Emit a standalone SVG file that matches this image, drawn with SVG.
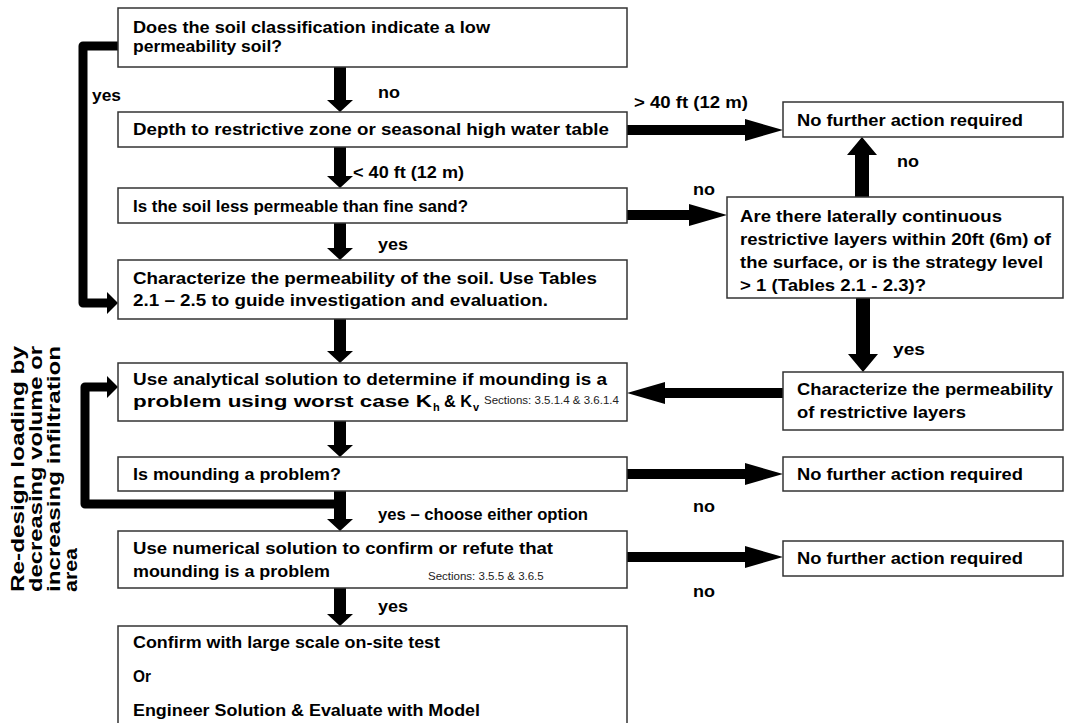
<svg xmlns="http://www.w3.org/2000/svg" width="1066" height="723" viewBox="0 0 1066 723">
<style>
.box{fill:#fff;stroke:#333;stroke-width:1.5}
.t{font-family:"Liberation Sans",Arial,sans-serif;font-weight:bold;font-size:17px;fill:#000}
.r{font-family:"Liberation Sans",Arial,sans-serif;font-weight:bold;font-size:17.5px;fill:#000}
.s{font-family:"Liberation Sans",Arial,sans-serif;font-size:11.5px;fill:#222}
.sub{font-family:"Liberation Sans",Arial,sans-serif;font-weight:bold;font-size:11px;fill:#000}
.ar{fill:#000}
.br{fill:none;stroke:#000;stroke-width:9;stroke-linejoin:round}
</style>
<rect width="1066" height="723" fill="#fff"/>

<g id="connectors">
  <path class="ar" d="M334,67 H346 V100 H353 L340,112 L327,100 H334 Z"/>
  <path class="ar" d="M334,147 H346 V176 H353 L340,188 L327,176 H334 Z"/>
  <path class="ar" d="M334,223 H346 V248 H353 L340,260 L327,248 H334 Z"/>
  <path class="ar" d="M334,319 H346 V351 H353 L340,363 L327,351 H334 Z"/>
  <path class="ar" d="M334,421 H346 V445 H353 L340,457 L327,445 H334 Z"/>
  <path class="ar" d="M334,491 H346 V519 H353 L340,531 L327,519 H334 Z"/>
  <path class="ar" d="M334,588 H346 V614 H353 L340,626 L327,614 H334 Z"/>
  <path class="ar" d="M627,125 H745 V119 L783,130 L745,141 V135 H627 Z"/>
  <path class="ar" d="M627,210 H689 V204 L727,215 L689,226 V220 H627 Z"/>
  <path class="ar" d="M627,469 H745 V463 L783,474 L745,485 V479 H627 Z"/>
  <path class="ar" d="M627,552 H745 V546 L783,557 L745,568 V562 H627 Z"/>
  <path class="ar" d="M783,388 H665 V382 L627,393 L665,404 V398 H783 Z"/>
  <path class="ar" d="M855,197 V155 H847 L862,137 L877,155 H869 V197 Z"/>
  <path class="ar" d="M856,298 V354 H848 L863,372 L878,354 H870 V298 Z"/>
  <path class="br" d="M118,46 H83 V303 H110"/>
  <path class="ar" d="M107,292 L118,303 L107,314 Z"/>
  <path class="br" d="M334,504 H85 V387 H110"/>
  <path class="ar" d="M107,376 L118,387 L107,398 Z"/>
</g>

<g id="n1">
  <rect class="box" x="118" y="8" width="509" height="59"/>
  <text class="t" x="133" y="33" textLength="357" lengthAdjust="spacingAndGlyphs">Does the soil classification indicate a low</text>
  <text class="t" x="133" y="52" textLength="149" lengthAdjust="spacingAndGlyphs">permeability soil?</text>
</g>
<g id="n2">
  <rect class="box" x="118" y="112" width="509" height="35"/>
  <text class="t" x="133" y="135" textLength="476" lengthAdjust="spacingAndGlyphs">Depth to restrictive zone or seasonal high water table</text>
</g>
<g id="n3">
  <rect class="box" x="118" y="188" width="509" height="35"/>
  <text class="t" x="133" y="212" textLength="335" lengthAdjust="spacingAndGlyphs">Is the soil less permeable than fine sand?</text>
</g>
<g id="n4">
  <rect class="box" x="118" y="260" width="509" height="59"/>
  <text class="t" x="133" y="284" textLength="464" lengthAdjust="spacingAndGlyphs">Characterize the permeability of the soil. Use Tables</text>
  <text class="t" x="133" y="306" textLength="415" lengthAdjust="spacingAndGlyphs">2.1 – 2.5 to guide investigation and evaluation.</text>
</g>
<g id="n5">
  <rect class="box" x="118" y="363" width="509" height="58"/>
  <text class="t" x="133" y="385" textLength="474" lengthAdjust="spacingAndGlyphs">Use analytical solution to determine if mounding is a</text>
  <text class="t" x="133" y="407" textLength="299" lengthAdjust="spacingAndGlyphs">problem using worst case K</text>
  <text class="sub" x="433" y="411">h</text>
  <text class="t" x="444" y="407" textLength="28" lengthAdjust="spacingAndGlyphs">&amp; K</text>
  <text class="sub" x="473" y="411">v</text>
  <text class="s" x="484" y="404">Sections: 3.5.1.4 &amp; 3.6.1.4</text>
</g>
<g id="n6">
  <rect class="box" x="118" y="457" width="509" height="34"/>
  <text class="t" x="133" y="480" textLength="208" lengthAdjust="spacingAndGlyphs">Is mounding a problem?</text>
</g>
<g id="n7">
  <rect class="box" x="118" y="531" width="509" height="57"/>
  <text class="t" x="133" y="554" textLength="420" lengthAdjust="spacingAndGlyphs">Use numerical solution to confirm or refute that</text>
  <text class="t" x="133" y="577" textLength="197" lengthAdjust="spacingAndGlyphs">mounding is a problem</text>
  <text class="s" x="428" y="580">Sections: 3.5.5 &amp;  3.6.5</text>
</g>
<g id="n8">
  <rect class="box" x="118" y="626" width="509" height="110"/>
  <text class="t" x="133" y="648" textLength="307" lengthAdjust="spacingAndGlyphs">Confirm with large scale on-site test</text>
  <text class="t" x="133" y="682" textLength="18" lengthAdjust="spacingAndGlyphs">Or</text>
  <text class="t" x="133" y="716" textLength="347" lengthAdjust="spacingAndGlyphs">Engineer Solution &amp; Evaluate with Model</text>
</g>
<g id="nfa1">
  <rect class="box" x="783" y="102" width="280" height="35"/>
  <text class="t" x="797" y="126" textLength="226" lengthAdjust="spacingAndGlyphs">No further action required</text>
</g>
<g id="lateral">
  <rect class="box" x="727" y="197" width="336" height="101"/>
  <text class="t" x="740" y="222" textLength="262" lengthAdjust="spacingAndGlyphs">Are there laterally continuous</text>
  <text class="t" x="740" y="245" textLength="311" lengthAdjust="spacingAndGlyphs">restrictive layers within 20ft (6m) of</text>
  <text class="t" x="740" y="268" textLength="303" lengthAdjust="spacingAndGlyphs">the surface, or is the strategy level</text>
  <text class="t" x="740" y="291" textLength="186" lengthAdjust="spacingAndGlyphs">&gt; 1 (Tables 2.1 - 2.3)?</text>
</g>
<g id="charRestr">
  <rect class="box" x="783" y="372" width="280" height="58"/>
  <text class="t" x="797" y="395" textLength="256" lengthAdjust="spacingAndGlyphs">Characterize the permeability</text>
  <text class="t" x="797" y="418" textLength="169" lengthAdjust="spacingAndGlyphs">of restrictive layers</text>
</g>
<g id="nfa2">
  <rect class="box" x="783" y="457" width="280" height="34"/>
  <text class="t" x="797" y="480" textLength="226" lengthAdjust="spacingAndGlyphs">No further action required</text>
</g>
<g id="nfa3">
  <rect class="box" x="783" y="541" width="280" height="35"/>
  <text class="t" x="797" y="564" textLength="226" lengthAdjust="spacingAndGlyphs">No further action required</text>
</g>

<g id="labels">
  <text class="t" x="378" y="98" textLength="22" lengthAdjust="spacingAndGlyphs">no</text>
  <text class="t" x="92" y="101" textLength="29" lengthAdjust="spacingAndGlyphs">yes</text>
  <text class="t" x="634" y="108" textLength="114" lengthAdjust="spacingAndGlyphs">&gt; 40 ft (12 m)</text>
  <text class="t" x="353" y="178" textLength="111" lengthAdjust="spacingAndGlyphs">&lt; 40 ft (12 m)</text>
  <text class="t" x="693" y="195" textLength="22" lengthAdjust="spacingAndGlyphs">no</text>
  <text class="t" x="897" y="167" textLength="22" lengthAdjust="spacingAndGlyphs">no</text>
  <text class="t" x="378" y="250" textLength="30" lengthAdjust="spacingAndGlyphs">yes</text>
  <text class="t" x="893" y="355" textLength="32" lengthAdjust="spacingAndGlyphs">yes</text>
  <text class="t" x="693" y="512" textLength="22" lengthAdjust="spacingAndGlyphs">no</text>
  <text class="t" x="378" y="520" textLength="210" lengthAdjust="spacingAndGlyphs">yes – choose either option</text>
  <text class="t" x="693" y="597" textLength="22" lengthAdjust="spacingAndGlyphs">no</text>
  <text class="t" x="378" y="612" textLength="30" lengthAdjust="spacingAndGlyphs">yes</text>
  <g transform="translate(0,592) rotate(-90)">
    <text class="r" x="0" y="24" textLength="246" lengthAdjust="spacingAndGlyphs">Re-design loading by</text>
    <text class="r" x="0" y="42" textLength="246" lengthAdjust="spacingAndGlyphs">decreasing volume or</text>
    <text class="r" x="0" y="60" textLength="246" lengthAdjust="spacingAndGlyphs">increasing infiltration</text>
    <text class="r" x="0" y="77" textLength="44" lengthAdjust="spacingAndGlyphs">area</text>
  </g>
</g>
</svg>
